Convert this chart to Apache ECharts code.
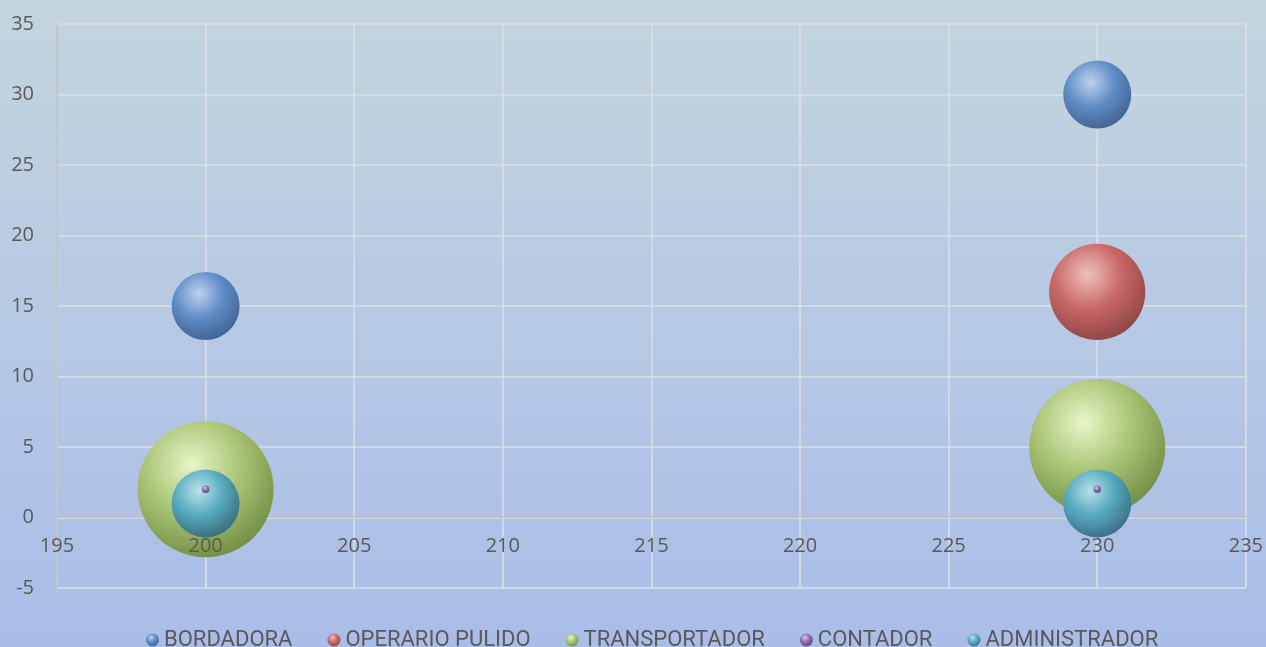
<!DOCTYPE html>
<html>
<head>
<meta charset="utf-8">
<script src="https://cdn.jsdelivr.net/npm/echarts@6/dist/echarts.min.js"></script>
<style>
  html, body { margin: 0; padding: 0; }
  #main { width: 1266px; height: 647px; }
</style>
</head>
<body>
<div id="main"></div>
<script type="text/javascript">
    // puntos [x, y, tamaño]
    var seriesNames   = ['BORDADORA', 'OPERARIO PULIDO', 'TRANSPORTADOR', 'CONTADOR', 'ADMINISTRADOR'];
    var bordadora     = [[200, 15, 1], [230, 30, 1]];
    var operario      = [[230, 16, 2]];
    var transportador = [[200, 2, 4], [230, 5, 4]];
    var contador      = [[200, 2, 0.012], [230, 2, 0.012]];
    var administrador = [[200, 1, 1], [230, 1, 1]];
    var seriesData    = [bordadora, operario, transportador, contador, administrador];

    var baseColors  = ['#5a89c4', '#c8625f', '#a8c46e', '#8568a9', '#52a8c1'];
    var lightColors = ['#bcd2ef', '#f1c0bd', '#ecf8c8', '#d6c9ec', '#bbe3ef'];
    var darkColors  = ['#3a5d8e', '#8a3e3d', '#6e8a3c', '#524171', '#33687b'];

    var myChart = echarts.init(document.getElementById('main'));

    function sphere(i) {
        return {
            type: 'radial', x: 0.4, y: 0.32, r: 0.72,
            colorStops: [
                {offset: 0, color: lightColors[i]},
                {offset: 0.5, color: baseColors[i]},
                {offset: 1, color: darkColors[i]}
            ]
        };
    }

    var serieData = [];
    for (var v = 0; v < seriesNames.length; v++) {
        serieData.push({
            name: seriesNames[v],
            type: 'scatter',
            data: seriesData[v],
            symbolSize: function (d) { return 68 * Math.sqrt(d[2]); },
            itemStyle: {color: sphere(v), opacity: 0.95},
            z: v === 3 ? 5 : 2
        });
    }

    var option = {
        animation: false,
        backgroundColor: {
            type: 'linear', x: 0, y: 0, x2: 0, y2: 1,
            colorStops: [{offset: 0, color: '#c4d5df'}, {offset: 1, color: '#a9bde8'}]
        },
        textStyle: {fontFamily: 'Open Sans'},
        grid: {left: 57, right: 20, top: 24, bottom: 59},
        legend: {
            top: 624, left: 141,
            icon: 'circle', itemWidth: 13, itemHeight: 13, itemGap: 35,
            textStyle: {color: '#595959', fontSize: 22, fontFamily: 'Roboto'},
            data: seriesNames
        },
        xAxis: [
            {   // rejilla y línea del eje en cero
                type: 'value', min: 195, max: 235, interval: 5,
                position: 'bottom', offset: -71,
                axisLine: {show: true, onZero: false, lineStyle: {color: '#bfbfbf', width: 1.5}},
                axisTick: {show: false},
                axisLabel: {show: false},
                splitLine: {show: true, lineStyle: {color: '#dcdfe4', width: 1.5}}
            },
            {   // etiquetas por encima de las burbujas
                type: 'value', min: 195, max: 235, interval: 5,
                position: 'bottom', offset: -71, z: 10,
                axisLine: {show: false, onZero: false},
                axisTick: {show: false},
                axisLabel: {color: '#595959', fontSize: 20, margin: 19},
                splitLine: {show: false}
            }
        ],
        yAxis: {
            type: 'value', min: -5, max: 35, interval: 5,
            axisLine: {show: true, lineStyle: {color: '#bfbfbf', width: 1.5}},
            axisTick: {show: false},
            axisLabel: {color: '#595959', fontSize: 20, margin: 23},
            splitLine: {show: true, lineStyle: {color: '#dcdfe4', width: 1.5}}
        },
        series: serieData
    };
    myChart.setOption(option);
</script>
</body>
</html>
